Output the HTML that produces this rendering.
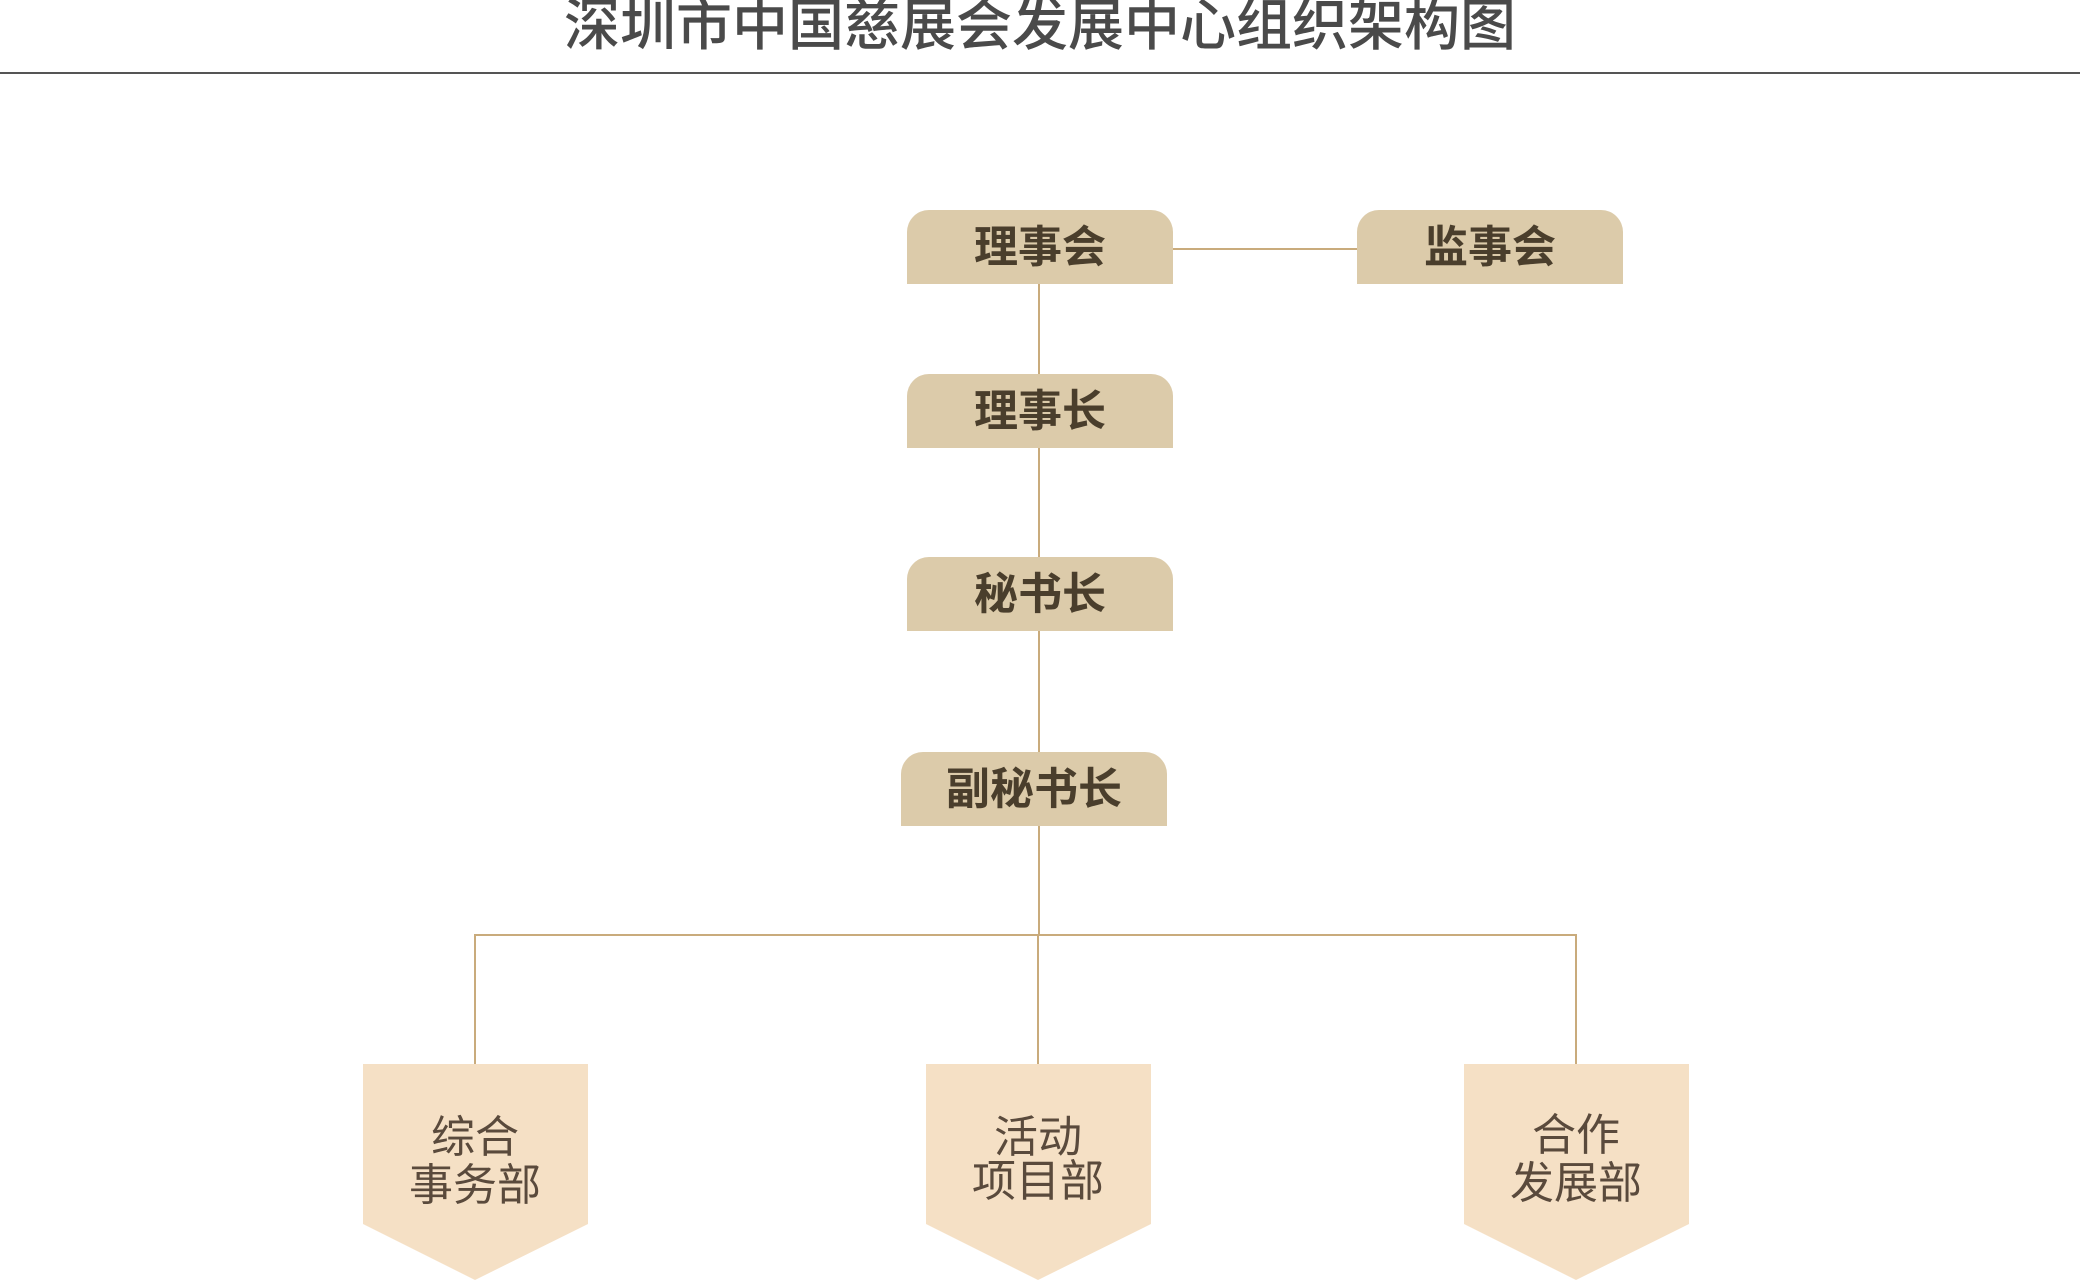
<!DOCTYPE html>
<html><head><meta charset="utf-8"><style>
body{margin:0;width:2080px;height:1280px;background:#fff;position:relative;overflow:hidden;font-family:"Liberation Sans","Noto Sans CJK SC",sans-serif}
.t{position:absolute;left:0;width:2080px;top:-9px;text-align:center;font-size:56px;font-weight:500;color:#4a4a4a;line-height:70px}
.hr{position:absolute;left:0;top:72px;width:2080px;height:2px;background:#555}
.n{position:absolute;width:266px;height:74px;background:#dccbaa;border-radius:22px 22px 0 0;text-align:center;line-height:76px;font-size:44px;font-weight:bold;color:#4a3e2c}
.l{position:absolute;background:#c9ab7c}
</style></head><body>
<div class="t">深圳市中国慈展会发展中心组织架构图</div>
<div class="hr"></div>
<div class="l" style="left:1173px;top:248px;width:184px;height:2px"></div>
<div class="l" style="left:1038px;top:284px;width:2px;height:651px"></div>
<div class="l" style="left:474px;top:934px;width:1103px;height:2px"></div>
<div class="l" style="left:474px;top:934px;width:2px;height:130px"></div>
<div class="l" style="left:1037px;top:934px;width:2px;height:130px"></div>
<div class="l" style="left:1575px;top:934px;width:2px;height:130px"></div>
<div class="n" style="left:907px;top:210px">理事会</div>
<div class="n" style="left:1357px;top:210px">监事会</div>
<div class="n" style="left:907px;top:374px">理事长</div>
<div class="n" style="left:907px;top:557px">秘书长</div>
<div class="n" style="left:901px;top:752px">副秘书长</div>
<svg style="position:absolute;left:0;top:0" width="2080" height="1280" font-family="Liberation Sans,Noto Sans CJK SC,sans-serif" font-size="44" fill="#5a4a3c" text-anchor="middle">
<g fill="#f5e0c5">
<polygon points="363,1064 588,1064 588,1224 475,1280 363,1224"/>
<polygon points="926,1064 1151,1064 1151,1224 1038,1280 926,1224"/>
<polygon points="1464,1064 1689,1064 1689,1224 1576,1280 1464,1224"/>
</g>
<text x="475" y="1152">综合</text><text x="475" y="1200">事务部</text>
<text x="1038" y="1152">活动</text><text x="1038" y="1196">项目部</text>
<text x="1576" y="1150">合作</text><text x="1576" y="1198">发展部</text>
</svg>
</body></html>
